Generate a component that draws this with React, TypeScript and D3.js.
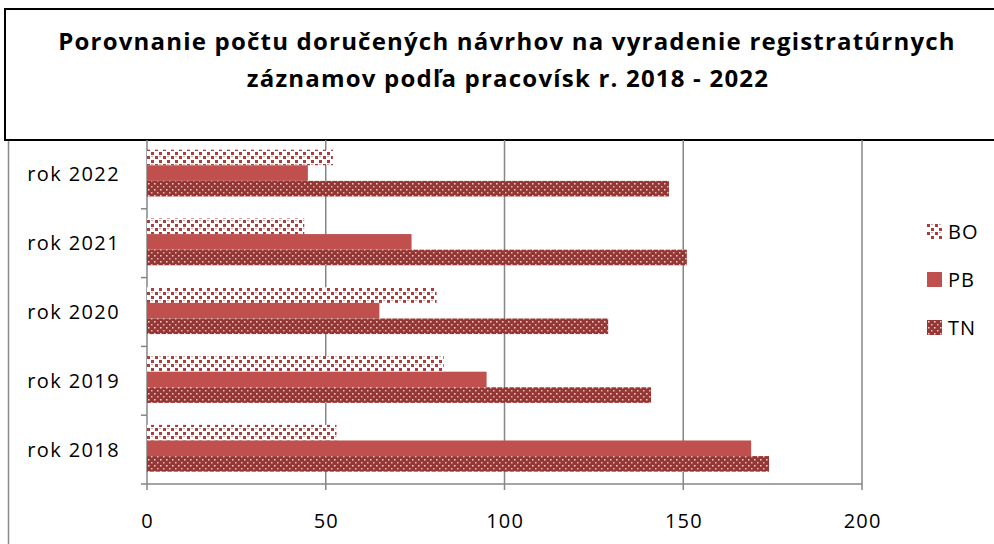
import React from 'react';
import * as d3 from 'd3';

const categories = ['rok 2018', 'rok 2019', 'rok 2020', 'rok 2021', 'rok 2022'];
const seriesNames = ['BO', 'PB', 'TN'];
const boValues = [53, 83, 81, 44, 52];
const pbValues = [169, 95, 65, 74, 45];
const tnValues = [174, 141, 129, 151, 146];
const xTicks = [0, 50, 100, 150, 200];

const width = 994;
const height = 544;
const margin = { top: 140, right: 132, bottom: 60, left: 147 };
const font = '"Open Sans", "Noto Sans", sans-serif';

const fills: Record<string, string> = {
  BO: 'url(#patBO)',
  PB: '#c0504d',
  TN: 'url(#patTN)',
};

const App = () => {
  const innerW = width - margin.left - margin.right;
  const innerH = height - margin.top - margin.bottom;

  const x = d3.scaleLinear().domain([0, 200]).range([0, innerW]);
  // top to bottom: 2022 ... 2018
  const y = d3.scaleBand().domain([...categories].reverse()).range([0, innerH]).paddingInner(0).paddingOuter(0);
  const inner = d3.scaleBand().domain(seriesNames).range([0, y.bandwidth()]).paddingOuter(0.705).paddingInner(0).align(0.44);

  const rows = categories.map((c, i) => ({
    cat: c,
    BO: boValues[i],
    PB: pbValues[i],
    TN: tnValues[i],
  }));

  return (
    <svg width={width} height={height} style={{ display: 'block', position: 'absolute', left: 0, top: 0 }}>
      <defs>
        <pattern id="patBO" width="8" height="8" patternUnits="userSpaceOnUse">
          <rect width="8" height="8" fill="#fff" />
          <rect x="0" y="0" width="3" height="3" fill="#a5403e" />
          <rect x="4" y="4" width="3" height="3" fill="#a5403e" />
          <rect x="4" y="0" width="2" height="1" fill="#d9a09f" />
        </pattern>
        <pattern id="patTN" width="6" height="6" patternUnits="userSpaceOnUse">
          <rect width="6" height="6" fill="#953735" />
          <rect x="1" y="1" width="1.5" height="1.5" fill="#f2dcdb" />
          <rect x="4" y="4" width="1.5" height="1.5" fill="#e6b9b8" />
        </pattern>
      </defs>
      <rect width={width} height={height} fill="#fff" />

      {/* title box */}
      <rect x={5} y={9} width={width} height={131} fill="#fff" stroke="#000" strokeWidth={2} />
      <text x={507} y={50} textAnchor="middle" fontFamily={font} fontWeight="bold" fontSize={24} letterSpacing={1.2}>
        Porovnanie počtu doručených návrhov na vyradenie registratúrnych
      </text>
      <text x={508} y={87} textAnchor="middle" fontFamily={font} fontWeight="bold" fontSize={24} letterSpacing={1.2}>
        záznamov podľa pracovísk r. 2018 - 2022
      </text>

      {/* outer chart border */}
      <line x1={8.5} x2={8.5} y1={141} y2={height} stroke="#8c8c8c" strokeWidth={1.5} />

      <g transform={`translate(${margin.left},${margin.top})`}>
        {xTicks.map((t) => (
          <g key={t}>
            <line x1={x(t)} x2={x(t)} y1={0} y2={innerH + 6} stroke="#868686" strokeWidth={1.5} />
            <text x={x(t) + 0.6} y={innerH + 44} textAnchor="middle" fontFamily={font} fontSize={20} letterSpacing={1.2}>
              {t}
            </text>
          </g>
        ))}
        <line x1={0} x2={innerW} y1={innerH} y2={innerH} stroke="#868686" strokeWidth={1.5} />
        {y.domain().map((c, i) => (
          <g key={c}>
            {i > 0 && <line x1={-6} x2={0} y1={y(c)!} y2={y(c)!} stroke="#868686" strokeWidth={1.5} />}
            <text x={-27} y={y(c)! + y.bandwidth() / 2} dy="0.35em" textAnchor="end" fontFamily={font} fontSize={20} letterSpacing={1.4}>
              {c}
            </text>
          </g>
        ))}
        <line x1={-6} x2={0} y1={innerH} y2={innerH} stroke="#868686" strokeWidth={1.5} />

        {rows.map((r) =>
          seriesNames.map((s) => (
            <rect
              key={r.cat + s}
              x={x(0)}
              y={y(r.cat)! + inner(s)!}
              width={x((r as any)[s]) - x(0)}
              height={inner.bandwidth()}
              fill={fills[s]}
            />
          ))
        )}
      </g>

      {/* legend */}
      {seriesNames.map((s, i) => (
        <g key={s} transform={`translate(927,${224 + i * 48})`}>
          <rect x={0} y={0} width={15} height={15} fill={fills[s]} />
          <text x={21} y={7.5} dy="0.35em" fontFamily={font} fontSize={20} letterSpacing={1}>
            {s}
          </text>
        </g>
      ))}
    </svg>
  );
};

export default App;
